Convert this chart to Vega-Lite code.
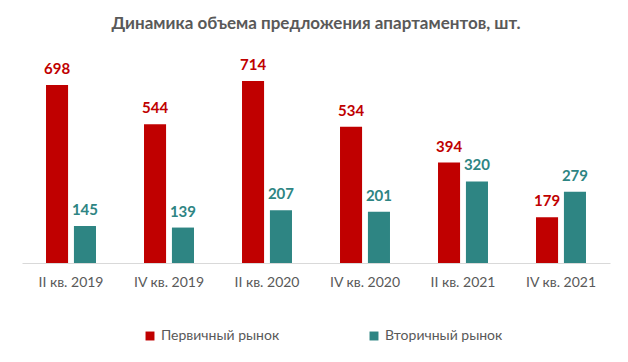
{
  "$schema": "https://vega.github.io/schema/vega-lite/v6.json",
  "width": 588,
  "height": 204,
  "padding": {"left": 22, "top": 14, "right": 18, "bottom": 5},
  "background": "white",
  "title": {
    "text": "Динамика объема предложения апартаментов, шт.",
    "font": "Lato",
    "fontSize": 17,
    "fontWeight": "bold",
    "color": "#595959",
    "anchor": "middle",
    "offset": 25
  },
  "data": {
    "values": [
      {"period": "II кв. 2019", "market": "Первичный рынок", "value": 698},
      {"period": "II кв. 2019", "market": "Вторичный рынок", "value": 145},
      {"period": "IV кв. 2019", "market": "Первичный рынок", "value": 544},
      {"period": "IV кв. 2019", "market": "Вторичный рынок", "value": 139},
      {"period": "II кв. 2020", "market": "Первичный рынок", "value": 714},
      {"period": "II кв. 2020", "market": "Вторичный рынок", "value": 207},
      {"period": "IV кв. 2020", "market": "Первичный рынок", "value": 534},
      {"period": "IV кв. 2020", "market": "Вторичный рынок", "value": 201},
      {"period": "II кв. 2021", "market": "Первичный рынок", "value": 394},
      {"period": "II кв. 2021", "market": "Вторичный рынок", "value": 320},
      {"period": "IV кв. 2021", "market": "Первичный рынок", "value": 179},
      {"period": "IV кв. 2021", "market": "Вторичный рынок", "value": 279}
    ]
  },
  "encoding": {
    "x": {
      "field": "period",
      "type": "nominal",
      "sort": null,
      "scale": {"paddingInner": 0.49, "paddingOuter": 0.245},
      "axis": {
        "title": null,
        "labelAngle": 0,
        "labelFont": "Lato",
        "labelFontSize": 14,
        "labelColor": "#595959",
        "labelPadding": 12,
        "ticks": false,
        "domainColor": "#d9d9d9",
        "domainWidth": 1
      }
    },
    "xOffset": {
      "field": "market",
      "type": "nominal",
      "sort": ["Первичный рынок", "Вторичный рынок"],
      "scale": {"paddingInner": 0.21, "paddingOuter": 0}
    },
    "y": {
      "field": "value",
      "type": "quantitative",
      "scale": {"domain": [0, 800]},
      "axis": null
    },
    "color": {
      "field": "market",
      "type": "nominal",
      "sort": ["Первичный рынок", "Вторичный рынок"],
      "scale": {
        "domain": ["Первичный рынок", "Вторичный рынок"],
        "range": ["#C00000", "#2E8583"]
      },
      "legend": {
        "title": null,
        "orient": "none",
        "legendX": 121,
        "legendY": 270,
        "direction": "horizontal",
        "symbolType": "square",
        "symbolSize": 80,
        "symbolStrokeWidth": 0,
        "labelFont": "Lato",
        "labelFontSize": 14,
        "labelColor": "#595959",
        "columnPadding": 87
      }
    }
  },
  "layer": [
    {"mark": {"type": "bar"}},
    {
      "mark": {
        "type": "text",
        "dy": -16,
        "font": "Lato",
        "fontSize": 15,
        "fontWeight": "bold"
      },
      "encoding": {"text": {"field": "value", "type": "quantitative"}}
    }
  ],
  "config": {"view": {"stroke": null}}
}
